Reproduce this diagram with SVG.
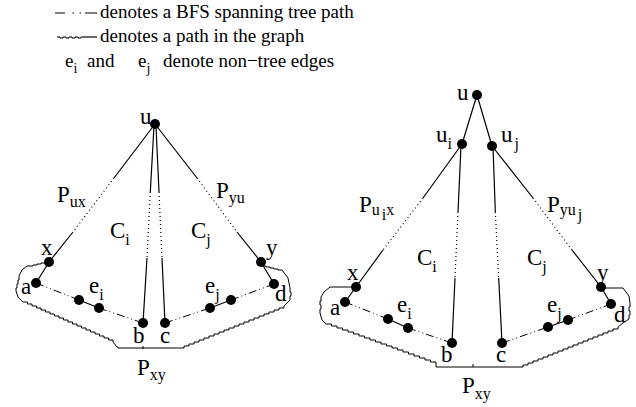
<svg xmlns="http://www.w3.org/2000/svg" width="636" height="407" viewBox="0 0 636 407">
<style>
text { font-family: "Liberation Serif", "Times New Roman", serif; fill: #000; }
.lg { font-size: 19px; }
.lgs { font-size: 14px; }
.lb { font-size: 23px; }
.sb { font-size: 16px; }
.s { stroke: #000; stroke-width: 1.2; fill: none; }
.dt { stroke: #000; stroke-width: 1.2; fill: none; stroke-dasharray: 1 3; }
.dd { stroke: #000; stroke-width: 1; fill: none; stroke-dasharray: 8 3 1 3 1 3; }
.w { stroke: #000; stroke-width: 1; fill: none; }
.n { fill: #000; }
</style>

<g id="legend">
  <path class="s" d="M55,13 H65 M85,13 H97"/>
  <path class="s" d="M72.5,13 H74 M79.5,13 H81"/>
  <text class="lg" x="100" y="18">denotes a BFS spanning tree path</text>
  <path class="w" d="M57,37 h3 v1 h3 v-1 h3 v1 h3 v-1 h3 v1 h3 v-1 h3 v1 h3 v-1 h2"/>
  <path class="s" d="M83,37 H97"/>
  <text class="lg" x="100" y="42">denotes a path in the graph</text>
  <text class="lg" x="65" y="67">e<tspan class="lgs" dy="6">i</tspan></text>
  <text class="lg" x="87" y="67">and</text>
  <text class="lg" x="138" y="67">e<tspan class="lgs" dy="6">j</tspan></text>
  <text class="lg" x="163" y="67">denote non−tree edges</text>
</g>

<g id="connectors">
  <!-- left diagram -->
  <path class="s" d="M155,124 L114,178 M73,232 L49,262 L36,283"/>
  <path class="dt" d="M114,178 L73,232"/>
  <path class="s" d="M154,126 L150.3,192 M147,258 L143,323"/>
  <path class="dt" d="M150.3,192 L147,258"/>
  <path class="s" d="M156,126 L159,192 M162,258 L165,323"/>
  <path class="dt" d="M159,192 L162,258"/>
  <path class="s" d="M155,124 L197,178 M237,232 L261,262 L274,284"/>
  <path class="dt" d="M197,178 L237,232"/>
  <path class="dd" d="M36,283 L79,300"/>
  <path class="s" d="M79,300 L99,308"/>
  <path class="dd" d="M99,308 L143,323"/>
  <path class="dd" d="M165,323 L210,308"/>
  <path class="s" d="M210,308 L231,300"/>
  <path class="dd" d="M231,300 L274,284"/>
  <path class="w" d="M49,262 h-4 v1 h-4 v1 h-4 v1 h-4 v1 h-6 l-5,4 l-3,6 v4 h-1 v4 h-1 v4 h-1 v3 l2,6 l5,5
    h4.5 v2 h4.5 v2 h4.5 v2 h4.5 v2 h4.5 v2 h4.5 v2 h4.5 v2 h4.5 v2 h4.5 v2 h4.5 v2
    h4.5 v2 h4.5 v2 h4.5 v2 h4.5 v2 h4.5 v2 h4.5 v2 h4.5 v2 h4.5 v2 h4.5 v2 h4.5 v2
    l4,5 h1 v1 H179
    h5 v-2 h5 v-2 h5 v-2 h5 v-2 h5 v-2 h5 v-2 h5 v-2 h5 v-2 h5 v-2 h5 v-2
    h5 v-2 h5 v-2 h5 v-2 h5 v-2 h5 v-2 h5 v-2 h5 v-2 h5 v-2 h5 v-2 h5 v-2 h5 v-2
    l6,-6 v-4 h1 v-4 h-1 v-4 l-2,-10 l-6,-8 h-4 v-1 h-4 v-1 h-4 v-1 h-4 v-1 h-4 L261,262"/>
  <path class="w" d="M143,346 V349"/>

  <!-- right diagram -->
  <path class="s" d="M477,95 L462,144 M477,95 L492,146"/>
  <path class="s" d="M462,144 L423,198 M383,250 L356,287 L345,302"/>
  <path class="dt" d="M423,198 L383,250"/>
  <path class="s" d="M461,146 L458,212 M455,278 L452,343"/>
  <path class="dt" d="M458,212 L455,278"/>
  <path class="s" d="M493,146 L495.3,212 M498.7,278 L502,343"/>
  <path class="dt" d="M495.3,212 L498.7,278"/>
  <path class="s" d="M492,146 L533,198 M572,250 L601,287 L611,304"/>
  <path class="dt" d="M533,198 L572,250"/>
  <path class="dd" d="M345,302 L388,319"/>
  <path class="s" d="M388,319 L408,328"/>
  <path class="dd" d="M408,328 L452,343"/>
  <path class="dd" d="M502,343 L548,327"/>
  <path class="s" d="M548,327 L568,320"/>
  <path class="dd" d="M568,320 L611,304"/>
  <path class="w" d="M356,287 H330 l-6,5 l-3,5 v4 h-1 v4 h1 v4 h-1 v4 l2,7 l4,4
    h5.5 v2 h5.5 v2 h5.5 v2 h5.5 v2 h5.5 v2 h5.5 v2 h5.5 v2 h5.5 v2 h5.5 v2 h5.5 v2
    h5.5 v2 h5.5 v2 h5.5 v2 h5.5 v2 h5.5 v2 h5.5 v2 h5.5 v2 h5.5 v2 h5.5 v2 h5.5 v2
    v3 H518
    h5 v-2 h5 v-2 h5 v-2 h5 v-2 h5 v-2 h5 v-2 h5 v-2 h5 v-2 h5 v-2 h5 v-2
    h5 v-2 h5 v-2 h5 v-2 h5 v-2 h5 v-2 h5 v-2 h5 v-2 h5 v-2 h5 v-2 h5 v-2
    l5,-4 l6,-4 v-4 h1 v-4 h-1 v-4 h1 v-4 l-1,-7 l-6,-8 H601"/>
  <path class="w" d="M473,364 V367"/>
</g>

<!-- left diagram nodes -->
<g id="L-u"><circle class="n" cx="155" cy="124" r="5"/><text class="lb" x="140" y="124">u</text></g>
<g id="L-x"><circle class="n" cx="49" cy="262" r="5"/><text class="lb" x="41" y="255">x</text></g>
<g id="L-y"><circle class="n" cx="261" cy="262" r="5"/><text class="lb" x="266" y="255">y</text></g>
<g id="L-a"><circle class="n" cx="36" cy="283" r="5"/><text class="lb" x="21" y="294">a</text></g>
<g id="L-ei"><circle class="n" cx="79" cy="300" r="5"/><circle class="n" cx="99" cy="308" r="5"/><text class="lb" x="89" y="293">e<tspan class="sb" dy="7">i</tspan></text></g>
<g id="L-b"><circle class="n" cx="143" cy="323" r="5"/><text class="lb" x="133" y="343">b</text></g>
<g id="L-c"><circle class="n" cx="165" cy="323" r="5"/><text class="lb" x="160" y="343">c</text></g>
<g id="L-ej"><circle class="n" cx="210" cy="308" r="5"/><circle class="n" cx="231" cy="300" r="5"/><text class="lb" x="205" y="293">e<tspan class="sb" dy="7">j</tspan></text></g>
<g id="L-d"><circle class="n" cx="274" cy="284" r="5"/><text class="lb" x="275" y="301">d</text></g>
<g id="L-labels">
  <text class="lb" x="57" y="202">P<tspan class="sb" dy="5">ux</tspan></text>
  <text class="lb" x="216" y="198">P<tspan class="sb" dy="5">yu</tspan></text>
  <text class="lb" x="110" y="238">C<tspan class="sb" dy="7">i</tspan></text>
  <text class="lb" x="191" y="238">C<tspan class="sb" dy="7">j</tspan></text>
  <text class="lb" x="137" y="375">P<tspan class="sb" dy="5">xy</tspan></text>
</g>

<!-- right diagram nodes -->
<g id="R-u"><circle class="n" cx="477" cy="95" r="5"/><text class="lb" x="457" y="100">u</text></g>
<g id="R-ui"><circle class="n" cx="462" cy="144" r="5"/><text class="lb" x="436" y="142">u<tspan class="sb" dy="7">i</tspan></text></g>
<g id="R-uj"><circle class="n" cx="492" cy="146" r="5"/><text class="lb" x="501" y="142">u<tspan class="sb" dy="7" dx="2">j</tspan></text></g>
<g id="R-x"><circle class="n" cx="356" cy="287" r="5"/><text class="lb" x="347" y="280">x</text></g>
<g id="R-y"><circle class="n" cx="601" cy="287" r="5"/><text class="lb" x="597" y="280">y</text></g>
<g id="R-a"><circle class="n" cx="345" cy="302" r="5"/><text class="lb" x="330" y="315">a</text></g>
<g id="R-ei"><circle class="n" cx="388" cy="319" r="5"/><circle class="n" cx="408" cy="328" r="5"/><text class="lb" x="397" y="312">e<tspan class="sb" dy="7">i</tspan></text></g>
<g id="R-b"><circle class="n" cx="452" cy="343" r="5"/><text class="lb" x="441" y="362">b</text></g>
<g id="R-c"><circle class="n" cx="502" cy="343" r="5"/><text class="lb" x="496" y="362">c</text></g>
<g id="R-ej"><circle class="n" cx="548" cy="327" r="5"/><circle class="n" cx="568" cy="320" r="5"/><text class="lb" x="547" y="312">e<tspan class="sb" dy="7">j</tspan></text></g>
<g id="R-d"><circle class="n" cx="611" cy="304" r="5"/><text class="lb" x="614" y="322">d</text></g>
<g id="R-labels">
  <text class="lb" x="359" y="212">P<tspan class="sb" dy="3">u</tspan><tspan class="sb" dy="5" dx="2">i</tspan><tspan class="sb" dy="-5">x</tspan></text>
  <text class="lb" x="547" y="212">P<tspan class="sb" dy="3">yu</tspan><tspan class="sb" dy="5" dx="2">j</tspan></text>
  <text class="lb" x="417" y="265">C<tspan class="sb" dy="7">i</tspan></text>
  <text class="lb" x="527" y="265">C<tspan class="sb" dy="7">j</tspan></text>
  <text class="lb" x="462" y="393">P<tspan class="sb" dy="6">xy</tspan></text>
</g>
</svg>
